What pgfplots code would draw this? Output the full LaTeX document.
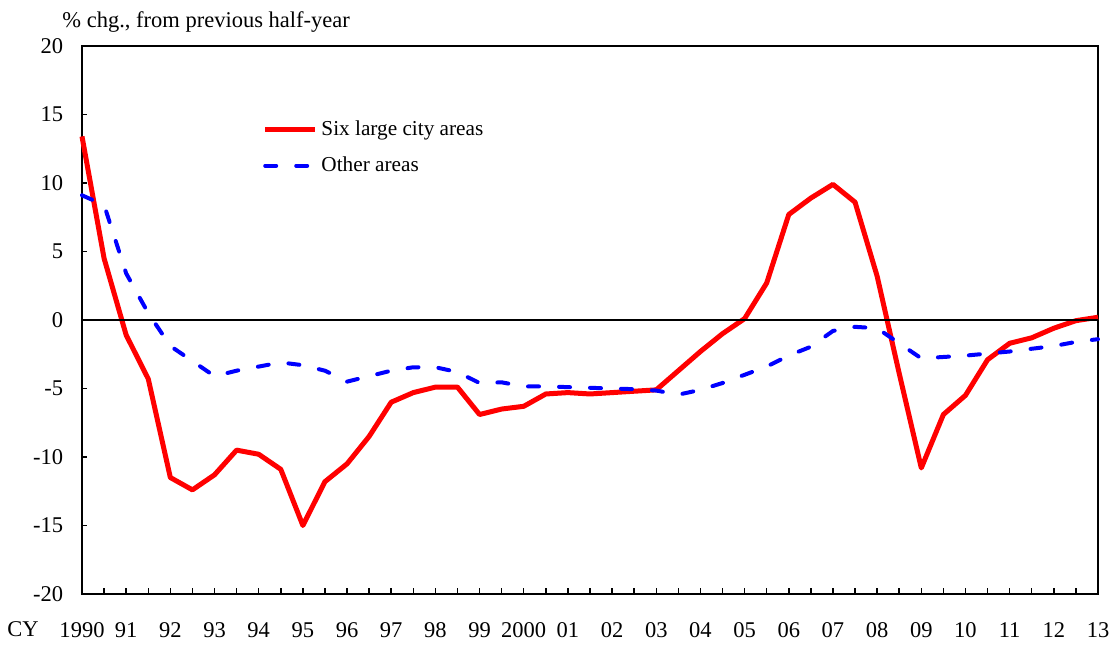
\documentclass[border=0pt]{standalone}
\usepackage{fontspec}
\setmainfont{Liberation Serif}
\usepackage{pgfplots}
\pgfplotsset{compat=1.18}
\usepackage{pgfplotstable}

% half-year index: 0 = 1990 H1, 46 = 2013 H1
\pgfplotstableread{
i  big  other
0  13.4  9.1
1  4.5   8.4
2  -1.1  3.4
3  -4.3  0.5
4  -11.5 -1.9
5  -12.4 -3.0
6  -11.3 -4.1
7  -9.5  -3.7
8  -9.8  -3.4
9  -10.9 -3.1
10 -15.0 -3.3
11 -11.8 -3.7
12 -10.5 -4.5
13 -8.5  -4.1
14 -6.0  -3.7
15 -5.3  -3.45
16 -4.9  -3.45
17 -4.9  -3.8
18 -6.9  -4.6
19 -6.5  -4.55
20 -6.3  -4.85
21 -5.4  -4.85
22 -5.3  -4.9
23 -5.4  -4.95
24 -5.3  -5.0
25 -5.2  -5.05
26 -5.1  -5.15
27 -3.7  -5.45
28 -2.3  -5.1
29 -1.0  -4.6
30 0.1   -4.0
31 2.7   -3.4
32 7.7   -2.6
33 8.9   -1.95
34 9.9   -0.8
35 8.6   -0.5
36 3.2   -0.6
37 -3.9  -1.7
38 -10.8 -2.8
39 -6.9  -2.7
40 -5.5  -2.6
41 -2.9  -2.45
42 -1.7  -2.3
43 -1.3  -2.1
44 -0.6  -1.9
45 -0.05 -1.6
46 0.2   -1.4
}\prices

\begin{document}
\begin{tikzpicture}
\begin{axis}[
    scale only axis,
    width=406.4pt,
    height=219.2pt,
    xmin=0, xmax=46,
    ymin=-20, ymax=20,
    ytick={-20,-15,...,20},
    xtick={0,...,46},
    xticklabels={1990,,91,,92,,93,,94,,95,,96,,97,,98,,99,,2000,,01,,02,,03,,04,,05,,06,,07,,08,,09,,10,,11,,12,,13},
    tick align=inside,
    ytick pos=left,
    xtick pos=bottom,
    major tick length=2.2pt,
    axis line style={line width=0.6pt},
    tick style={black, line width=0.6pt},
    font=\fontsize{9}{11}\selectfont,
    /pgf/number format/assume math mode=true,
    yticklabel style={xshift=-4pt},
    xticklabel style={inner xsep=0pt, yshift=-8pt},
    clip=false,
    legend cell align=left,
    legend style={at={(rel axis cs:0.17,0.881)}, anchor=north west, draw=none, fill=none,
      font=\fontsize{8.5}{10}\selectfont, row sep=4pt,
      nodes={inner sep=1.5pt}},
    legend image code/.code={\draw[#1] (0pt,0pt) -- (20pt,0pt);},
  ]
\addplot[red, line width=2pt, line join=round] table[x=i, y=big] {\prices};
\addlegendentry{Six large city areas}
\addplot[blue, line width=1.6pt, line cap=round, dash pattern=on 4.4pt off 8pt] table[x=i, y=other] {\prices};
\addlegendentry{Other areas}
\addplot[black, line width=0.6pt, forget plot] coordinates {(0,0) (46,0)};
\node[anchor=base west, inner sep=0pt] at ([yshift=7.2pt]rel axis cs:-0.0197,1) {\% chg., from previous half-year};
\node[anchor=north, inner sep=0pt, yshift=-11pt] at (rel axis cs:-0.058,0) {CY};
\path (rel axis cs:0,0) ++(-32.8pt,-17.2pt) (rel axis cs:1,1) ++(4.8pt,18.4pt);
\end{axis}
\end{tikzpicture}
\end{document}
